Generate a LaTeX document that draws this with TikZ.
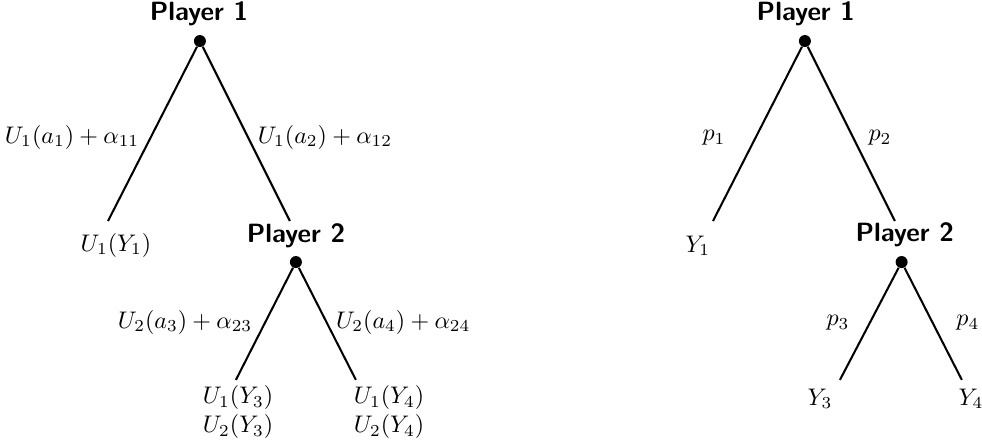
\documentclass[tikz,border=0pt]{standalone}
\usepackage{amsmath}
\usepackage{tikz}
\tikzstyle{mv} = [circle,fill=black,inner sep=0pt,minimum size=5pt]
\tikzstyle{br} = [line width=0.85pt]
\tikzstyle{pl} = [font=\sffamily\bfseries\fontsize{11}{13}\selectfont,inner sep=0pt]
\tikzstyle{lb} = [inner sep=0pt]

\begin{document}
\begin{tikzpicture}[yscale=-1]
			\useasboundingbox (0pt,0pt) rectangle (409.2pt,185pt);
			% utility tree
			\node[pl] (uP1) at (82.9pt,5.8pt) {Player 1};
			\node[mv] (uroot) at (83.3pt,17.1pt) {};
			\coordinate (uL1) at (45pt,92.1pt);
			\coordinate (uR1) at (120.8pt,92.1pt);
			\draw[br] (uroot) -- (uL1);
			\draw[br] (uroot) -- (uR1);
			\node[lb] at (30pt,57.1pt) {$U_1(a_1)+\alpha_{11}$};
			\node[lb] at (135.4pt,57.1pt) {$U_1(a_2)+\alpha_{12}$};
			\node[lb] (uY1) at (48.3pt,102.2pt) {$U_1(Y_1)$};
			\node[pl] (uP2) at (123.3pt,98.3pt) {Player 2};
			\node[mv] (umid) at (123.3pt,109.2pt) {};
			\coordinate (uL2) at (98.3pt,158.3pt);
			\coordinate (uR2) at (148.3pt,158.3pt);
			\draw[br] (umid) -- (uL2);
			\draw[br] (umid) -- (uR2);
			\node[lb] at (77.1pt,134.2pt) {$U_2(a_3)+\alpha_{23}$};
			\node[lb] at (168pt,134.2pt) {$U_2(a_4)+\alpha_{24}$};
			\node[lb,align=center] (uY3) at (99.2pt,171.7pt) {$U_1(Y_3)$\\$U_2(Y_3)$};
			\node[lb,align=center] (uY4) at (162.1pt,171.7pt) {$U_1(Y_4)$\\$U_2(Y_4)$};
			% probability tree
			\node[pl] (pP1) at (335.8pt,5.8pt) {Player 1};
			\node[mv] (proot) at (335.4pt,17.1pt) {};
			\coordinate (pL1) at (297.1pt,92.1pt);
			\coordinate (pR1) at (372.9pt,92.1pt);
			\draw[br] (proot) -- (pL1);
			\draw[br] (proot) -- (pR1);
			\node[lb] at (297.5pt,57.5pt) {$p_1$};
			\node[lb] at (366.7pt,57.5pt) {$p_2$};
			\node[lb] (pY1) at (290.8pt,102.4pt) {$Y_1$};
			\node[pl] (pP2) at (377pt,97.8pt) {Player 2};
			\node[mv] (pmid) at (375.7pt,109.2pt) {};
			\coordinate (pL2) at (350pt,158.3pt);
			\coordinate (pR2) at (400.8pt,158.3pt);
			\draw[br] (pmid) -- (pL2);
			\draw[br] (pmid) -- (pR2);
			\node[lb] at (349.2pt,134.5pt) {$p_3$};
			\node[lb] at (403.3pt,134.5pt) {$p_4$};
			\node[lb] (pY3) at (341.7pt,166.2pt) {$Y_3$};
			\node[lb] (pY4) at (404.6pt,166.2pt) {$Y_4$};
		\end{tikzpicture}
\end{document}
